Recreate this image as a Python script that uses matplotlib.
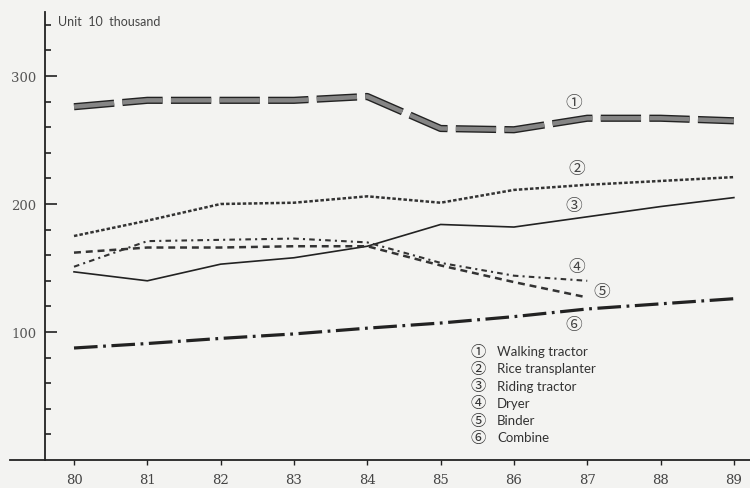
import matplotlib.pyplot as plt
import numpy as np

plt.rcParams['lines.scale_dashes'] = False

years = [80, 81, 82, 83, 84, 85, 86, 87, 88, 89]
walking = [276, 281, 281, 281, 284, 259, 258, 267, 267, 265]
rice = [175, 187, 200, 201, 206, 201, 211, 215, 218, 221]
riding = [147, 140, 153, 158, 167, 184, 182, 190, 198, 205]
dry_years = [80, 81, 82, 83, 84, 85, 86, 87]
dryer = [151, 171, 172, 173, 170, 154, 144, 140]
binder = [162, 166, 166, 167, 167, 152, 139, 127]
combine = [87.5, 91, 95, 98.5, 103, 107, 112, 118, 122, 126]

names = ['Walking tractor', 'Rice transplanter', 'Riding tractor', 'Dryer', 'Binder', 'Combine']
marks = ['\u2460', '\u2461', '\u2462', '\u2463', '\u2464', '\u2465']
mark_x = [86.81, 86.85, 86.81, 86.85, 87.2, 86.82]
mark_y = [279, 228, 199, 151.5, 132, 105.5]

bg = '#f3f3f1'
ink = '#222222'
fig = plt.figure(figsize=(7.5, 4.89), dpi=100, facecolor=bg)
ax = fig.add_axes([10/750, 28/489, 740/750, 448/489], facecolor=bg)

# 1 walking tractor: thick gray band with dark outline
ax.plot(years, walking, color=ink, lw=5.2, dashes=(29, 6), dash_capstyle='butt')
ax.plot(years, walking, color='#858585', lw=3.2, dashes=(29, 6), dash_capstyle='butt')
# 2 rice transplanter
ax.plot(years, rice, color='#333333', lw=1.8, dashes=(2.5, 1.5))
# 3 riding tractor
ax.plot(years, riding, color=ink, lw=1.2)
# 4 dryer
ax.plot(dry_years, dryer, color='#333333', lw=1.5, dashes=(4, 3, 1.5, 3))
# 5 binder
ax.plot(dry_years, binder, color='#333333', lw=1.8, dashes=(5, 3.5))
# 6 combine
ax.plot(years, combine, color=ink, lw=2.3, dashes=(17, 4, 2, 4))

circ = ['Noto Sans CJK JP', 'DejaVu Sans']
for m, x, y in zip(marks, mark_x, mark_y):
    ax.text(x, y, m, family=circ, fontsize=12, color='#444444', ha='center', va='center')

# legend block
for i, (m, n) in enumerate(zip(marks, names)):
    yy = 352 + i * 17.3
    fig.text(478/750, 1 - yy/489, m, family=circ, fontsize=11, color='#333333', ha='center', va='center')
    fig.text(497/750, 1 - yy/489, n, family='Lato', fontsize=9.5, color='#333333', ha='left', va='center')

fig.text(58/750, 1 - 22/489, 'Unit  10  thousand', family='Lato', fontsize=9, color='#444444', ha='left', va='center')

ax.set_xlim(79.127, 89.22)
ax.set_ylim(0, 350)
for s in ['top', 'right']:
    ax.spines[s].set_visible(False)
ax.spines['left'].set_position(('data', 79.605))
ax.spines['left'].set_color(ink)
ax.spines['bottom'].set_color(ink)
ax.spines['left'].set_linewidth(1.3)
ax.spines['bottom'].set_linewidth(1.3)

ax.set_xticks(years)
ax.set_xticklabels([str(y) for y in years], family='DejaVu Serif', fontsize=9.5, color='#444444')
ax.tick_params(axis='x', direction='out', length=3.5, width=1, color=ink, pad=6)

ax.set_yticks([100, 200, 300])
ax.set_yticklabels(['100', '200', '300'], family='DejaVu Serif', fontsize=9.5, color='#555555')
ax.set_yticks(np.arange(20, 341, 20), minor=True)
ax.tick_params(axis='y', which='major', direction='in', length=8.5, width=1.2, color=ink, pad=6)
ax.tick_params(axis='y', which='minor', direction='in', length=4.3, width=1.2, color=ink)

fig.savefig('out.png', dpi=100, facecolor=bg)
